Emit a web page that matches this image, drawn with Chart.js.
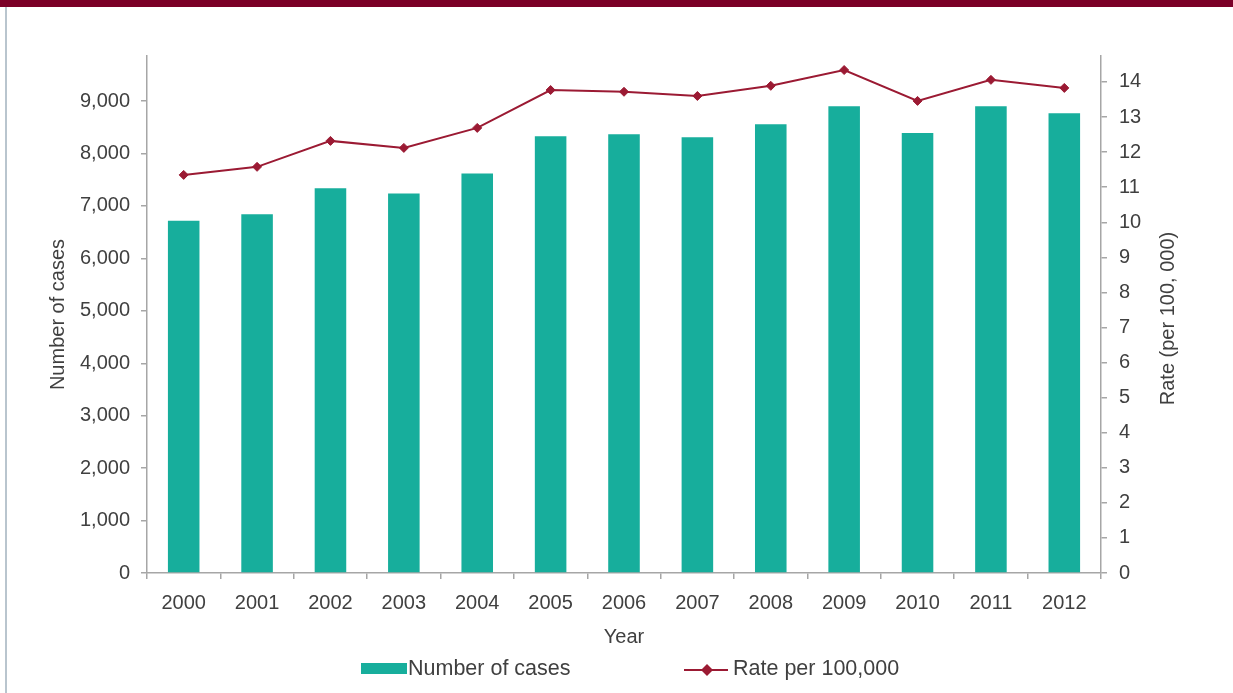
<!DOCTYPE html>
<html>
<head>
<meta charset="utf-8">
<script src="https://cdn.jsdelivr.net/npm/chart.js@4/dist/chart.umd.min.js"></script>
<style>
  html, body { margin: 0; padding: 0; background: #fff; }
  body { width: 1233px; height: 693px; position: relative; overflow: hidden; }
  #topbar { position: absolute; left: 0; top: 0; width: 1233px; height: 7px; background: #7b0027; }
  #leftline { position: absolute; left: 5px; top: 7px; width: 2px; height: 686px; background: #b9c5ce; }
  #wrap { position: absolute; left: 0; top: 0; width: 1233px; height: 693px; }
</style>
</head>
<body>
<div id="wrap"><canvas id="chart"></canvas></div>
<div id="topbar"></div>
<div id="leftline"></div>
<script>
var years = ['2000','2001','2002','2003','2004','2005','2006','2007','2008','2009','2010','2011','2012'];
var cases = [6720, 6840, 7340, 7240, 7620, 8330, 8370, 8310, 8560, 8900, 8390, 8900, 8770];
var rates = [11.35, 11.58, 12.32, 12.12, 12.69, 13.77, 13.72, 13.60, 13.89, 14.34, 13.46, 14.06, 13.83];
var rightTitle = 'Rate (per 100, 000)';

var caseColor = '#17ae9c';
var rateColor = '#9b1a33';
var axisColor = '#a6a6a6';
var textColor = '#404040';
var fontFamily = '"Liberation Sans", Arial, sans-serif';

Chart.defaults.font.family = fontFamily;
Chart.defaults.font.size = 20;
Chart.defaults.color = textColor;

// legend under the x axis title, plus the right axis title read bottom to top
var extrasPlugin = {
    id: 'extras',
    afterDraw: function(chart) {
        var ctx = chart.ctx;
        var bars = chart.data.datasets[1];
        var line = chart.data.datasets[0];
        ctx.save();
        ctx.font = '21.5px ' + fontFamily;
        ctx.textBaseline = 'middle';
        // bar item
        ctx.fillStyle = bars.backgroundColor;
        ctx.fillRect(361, 663, 46, 11);
        ctx.fillStyle = textColor;
        ctx.fillText(bars.label, 408, 669);
        // line item
        ctx.strokeStyle = line.borderColor;
        ctx.lineWidth = 2;
        ctx.beginPath();
        ctx.moveTo(684, 670);
        ctx.lineTo(728, 670);
        ctx.stroke();
        ctx.fillStyle = line.borderColor;
        ctx.beginPath();
        ctx.moveTo(707, 664); ctx.lineTo(713, 670); ctx.lineTo(707, 676); ctx.lineTo(701, 670);
        ctx.closePath();
        ctx.fill();
        ctx.fillStyle = textColor;
        ctx.fillText(line.label, 733, 669);

        // right axis title
        var s = chart.scales.y1;
        ctx.font = '20px ' + fontFamily;
        ctx.textAlign = 'center';
        ctx.translate(1168, (s.top + s.bottom) / 2 + 4);
        ctx.rotate(-Math.PI / 2);
        ctx.fillText(rightTitle, 0, 0);
        ctx.restore();
    }
};

var ctx = document.getElementById('chart').getContext('2d');
var myChart = new Chart(ctx, {
    type: 'bar',
    data: {
        labels: years,
        datasets: [
            {
                type: 'line',
                label: 'Rate per 100,000',
                data: rates,
                yAxisID: 'y1',
                borderColor: rateColor,
                backgroundColor: rateColor,
                borderWidth: 2,
                pointStyle: 'rectRot',
                pointRadius: 4.5,
                pointBorderWidth: 1,
                tension: 0,
                order: 0
            },
            {
                label: 'Number of cases',
                data: cases,
                yAxisID: 'y',
                backgroundColor: caseColor,
                categoryPercentage: 1,
                barPercentage: 0.43,
                order: 1
            }
        ]
    },
    options: {
        responsive: true,
        maintainAspectRatio: false,
        animation: false,
        layout: { padding: { left: 40, right: 50, top: 56, bottom: 43 } },
        plugins: {
            legend: { display: false },
            tooltip: { enabled: false }
        },
        scales: {
            x: {
                grid: { drawOnChartArea: false, color: axisColor, tickLength: 6, lineWidth: 1.5, offset: true },
                border: { color: axisColor, width: 1.5 },
                ticks: { padding: 12, maxRotation: 0 },
                title: { display: true, text: 'Year', padding: { top: 4, bottom: 1 } },
                afterFit: function(scale) { scale.height = 77; }
            },
            y: {
                position: 'left',
                min: 0,
                max: 9860,
                afterBuildTicks: function(scale) {
                    var t = [];
                    for (var v = 0; v <= 9000; v += 1000) t.push({ value: v });
                    scale.ticks = t;
                },
                grid: { drawOnChartArea: false, color: axisColor, tickLength: 6, lineWidth: 1.5 },
                border: { color: axisColor, width: 1.5 },
                ticks: {
                    padding: 11,
                    callback: function(v) { return v.toLocaleString('en-US'); }
                },
                title: { display: true, text: 'Number of cases', padding: { top: 6, bottom: 0 } },
                afterFit: function(scale) { scale.width = 107; }
            },
            y1: {
                position: 'right',
                min: 0,
                max: 14.74,
                afterBuildTicks: function(scale) {
                    var t = [];
                    for (var v = 0; v <= 14; v += 1) t.push({ value: v });
                    scale.ticks = t;
                },
                grid: { drawOnChartArea: false, color: axisColor, tickLength: 6, lineWidth: 1.5 },
                border: { color: axisColor, width: 1.5 },
                ticks: { padding: 12 },
                title: { display: false },
                afterFit: function(scale) { scale.width = 82; }
            }
        }
    },
    plugins: [extrasPlugin]
});
</script>
</body>
</html>
